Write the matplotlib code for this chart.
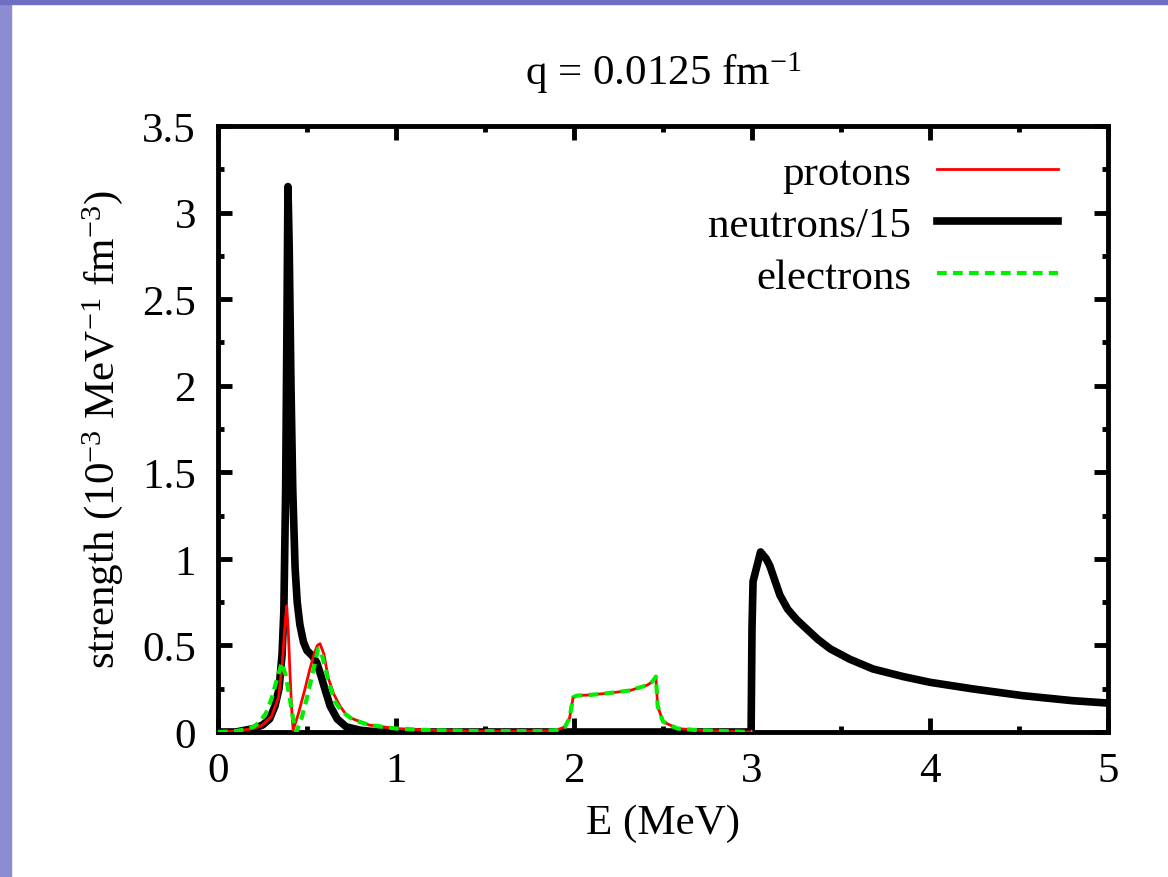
import matplotlib.pyplot as plt
from matplotlib.patches import Rectangle

# energies (MeV) and strengths (10^-3 MeV^-1 fm^-3)
e_protons = [0.0, 0.1, 0.2, 0.25, 0.3, 0.34, 0.36, 0.375, 0.386, 0.395, 0.404,
             0.413, 0.422, 0.45, 0.489, 0.515, 0.54, 0.558, 0.573, 0.595,
             0.62, 0.65, 0.685, 0.72, 0.76, 0.85, 1.0, 1.2, 1.5, 1.8, 1.9,
             1.95, 1.975, 1.995, 2.015, 2.1, 2.2, 2.315, 2.41, 2.44, 2.46,
             2.47, 2.5, 2.58, 2.7, 2.85, 3.0]
protons = [0.0, 0.005, 0.02, 0.04, 0.09, 0.2, 0.38, 0.6, 0.73, 0.58, 0.35,
           0.15, 0.01, 0.1, 0.25, 0.36, 0.45, 0.5, 0.51, 0.45,
           0.31, 0.22, 0.15, 0.1, 0.075, 0.04, 0.02, 0.01, 0.005, 0.005, 0.01,
           0.03, 0.08, 0.2, 0.21, 0.215, 0.225, 0.24, 0.27, 0.29, 0.32,
           0.15, 0.06, 0.02, 0.01, 0.005, 0.0]

e_electrons = [0.0, 0.1, 0.15, 0.2, 0.236, 0.27, 0.3, 0.33, 0.358, 0.38,
               0.404, 0.425, 0.44, 0.47, 0.498, 0.525, 0.545, 0.562, 0.58,
               0.6, 0.63, 0.66, 0.7, 0.76, 0.85, 1.0, 1.2, 1.5, 1.8, 1.9,
               1.95, 1.975, 1.995, 2.015, 2.1, 2.2, 2.315, 2.41, 2.44, 2.46,
               2.47, 2.5, 2.58, 2.7, 2.85, 3.0]
electrons = [0.0, 0.005, 0.015, 0.03, 0.06, 0.11, 0.19, 0.3, 0.4, 0.33,
             0.19, 0.06, 0.0, 0.08, 0.19, 0.31, 0.4, 0.48, 0.46,
             0.38, 0.26, 0.17, 0.115, 0.07, 0.04, 0.02, 0.01, 0.005, 0.005, 0.01,
             0.03, 0.08, 0.2, 0.21, 0.215, 0.225, 0.24, 0.27, 0.29, 0.32,
             0.15, 0.06, 0.02, 0.01, 0.005, 0.0]

e_neutrons = [0.0, 0.1, 0.2, 0.25, 0.29, 0.32, 0.343, 0.36, 0.37, 0.38,
              0.387, 0.393, 0.40, 0.41, 0.42, 0.433, 0.445, 0.46, 0.48, 0.5,
              0.53, 0.555, 0.58, 0.60, 0.63, 0.67, 0.72, 0.8, 0.9, 2.0, 2.995,
              3.0, 3.006, 3.048, 3.08, 3.1, 3.13, 3.157, 3.2, 3.25, 3.307,
              3.37, 3.44, 3.55, 3.68, 3.85, 4.0, 4.24, 4.52, 4.8, 5.0]
neutrons = [0.0, 0.0, 0.02, 0.04, 0.075, 0.15, 0.25, 0.45, 0.7, 1.4,
            2.3, 3.15, 2.8, 2.0, 1.4, 0.95, 0.75, 0.62, 0.52, 0.47,
            0.44, 0.4, 0.32, 0.25, 0.15, 0.075, 0.03, 0.01, 0.0, 0.0, 0.0,
            0.6, 0.87, 1.04, 1.0, 0.96, 0.87, 0.79, 0.71, 0.65, 0.595,
            0.535, 0.48, 0.42, 0.364, 0.32, 0.287, 0.249, 0.21, 0.181, 0.167]

x_ticks = [0, 1, 2, 3, 4, 5]
y_ticks = [0, 0.5, 1, 1.5, 2, 2.5, 3, 3.5]
y_tick_labels = ["0", "0.5", "1", "1.5", "2", "2.5", "3", "3.5"]

plt.rcParams['font.family'] = ['Liberation Serif', 'DejaVu Serif']
plt.rcParams['mathtext.fontset'] = 'custom'
plt.rcParams['mathtext.rm'] = 'Liberation Serif'
plt.rcParams['mathtext.default'] = 'regular'
plt.rcParams['lines.scale_dashes'] = False

fig = plt.figure(figsize=(11.68, 8.78), dpi=100)
# slide background showing at the left and top edges
fig.patches.append(Rectangle((0, 0), 11 / 1168, 1, transform=fig.transFigure,
                             color='#8c8cd2', zorder=0))
fig.patches.append(Rectangle((0, 1 - 5 / 878), 1, 5 / 878,
                             transform=fig.transFigure, color='#6e6ec4',
                             zorder=0))

ax = fig.add_axes([218 / 1168, 1 - 733 / 878, 890 / 1168, 606 / 878])

ax.plot(e_protons, protons, color='#ff0000', lw=2.0, label='protons',
        zorder=3)
ax.plot(e_neutrons, neutrons, color='black', lw=5.5, label='neutrons/15',
        zorder=2)
ax.plot(e_electrons, electrons, color='#00ee00', lw=3.0, dashes=(7, 4.5),
        label='electrons', zorder=4)

ax.set_xlim(0, 5)
ax.set_ylim(0, 3.5)
ax.set_xticks(x_ticks)
ax.set_xticks([0.5, 1.5, 2.5, 3.5, 4.5], minor=True)
ax.set_yticks(y_ticks)
ax.set_yticklabels(y_tick_labels)
ax.set_yticks([0.25, 0.75, 1.25, 1.75, 2.25, 2.75, 3.25], minor=True)

ax.tick_params(which='both', direction='in', top=True, right=True,
               width=3.5, labelsize=31)
ax.tick_params(which='major', length=10)
ax.tick_params(which='minor', length=4.5)
ax.tick_params(axis='x', pad=14)
ax.tick_params(axis='y', pad=16)
for spine in ax.spines.values():
    spine.set_linewidth(3.5)

ax.set_xlabel("E (MeV)", fontsize=31, labelpad=10)
ax.set_ylabel("strength (10$^{-3}$ MeV$^{-1}$ fm$^{-3}$)", fontsize=31,
              labelpad=12)
ax.set_title("q = 0.0125 fm$^{-1}$", fontsize=31, pad=30)

leg = ax.legend(loc='upper right', frameon=False, fontsize=31,
                markerfirst=False, handlelength=2.8, handletextpad=0.6,
                labelspacing=0.3, borderaxespad=0.25,
                bbox_to_anchor=(0.975, 1.0))
for text in leg.get_texts():
    text.set_ha('right')

fig.savefig("out.png", dpi=100, facecolor='white')
